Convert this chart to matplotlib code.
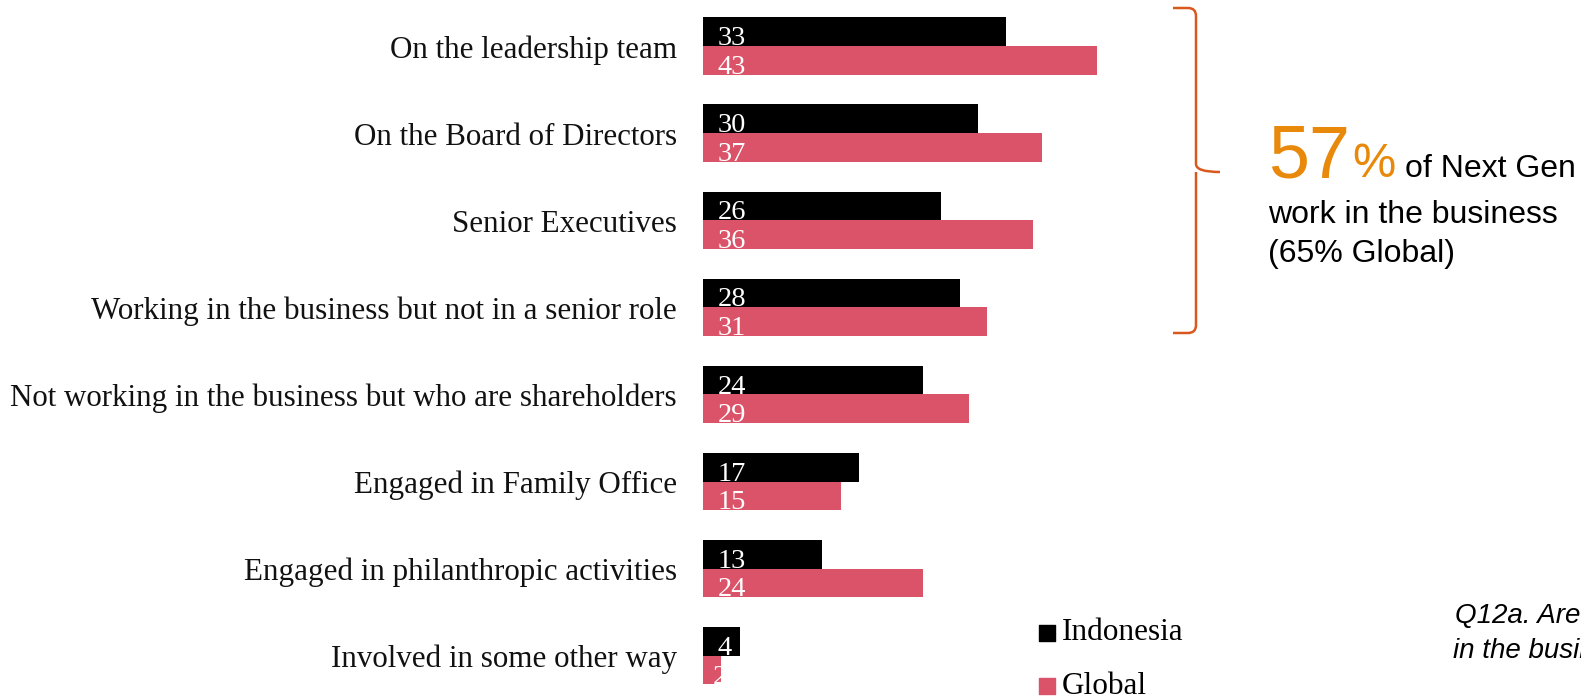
import matplotlib.pyplot as plt
from matplotlib.path import Path
from matplotlib.patches import PathPatch

categories = [
    "On the leadership team",
    "On the Board of Directors",
    "Senior Executives",
    "Working in the business but not in a senior role",
    "Not working in the business but who are shareholders",
    "Engaged in Family Office",
    "Engaged in philanthropic activities",
    "Involved in some other way",
]
indonesia = [33, 30, 26, 28, 24, 17, 13, 4]
global_vals = [43, 37, 36, 31, 29, 15, 24, 2]
series_names = ["Indonesia", "Global"]

BLACK = "#000000"
PINK = "#DB5369"
ORANGE = "#E8890C"
BRACKET = "#D9581E"
SERIF = "Liberation Serif"
SANS = "Liberation Sans"

W, H = 1581, 697
fig = plt.figure(figsize=(W / 100, H / 100), dpi=100)

# bar axes: zero at x=703px, 9.17 px per unit; rows 87.1 px apart, first centre at 46 px
x0, ppu = 703, 9.17
xmax = 60
pitch, first = 87.1, 46
ax = fig.add_axes([x0 / W, 0, xmax * ppu / W, 1])
ax.set_xlim(0, xmax)
ax.set_ylim((H - first) / pitch, -first / pitch)
ax.axis("off")

bh = 28.7 / pitch
for i, (a, b) in enumerate(zip(indonesia, global_vals)):
    r1 = ax.barh(i - bh / 2, a, height=bh, color=BLACK)[0]
    r2 = ax.barh(i + bh / 2, b, height=bh, color=PINK)[0]
    for val, rect, yb in ((a, r1, i), (b, r2, i + bh)):
        t = ax.text(min(1.6, val * 0.55), yb - 0.01, str(val), color="white",
                    fontsize=20.5, family=SERIF, ha="left", va="baseline")
        t.set_clip_path(rect)
    ax.text(-26 / ppu, i + 4 / pitch, categories[i], ha="right", va="center",
            fontsize=22.3, family=SERIF, color="#111111")

# overlay in pixel coordinates for annotations
ov = fig.add_axes([0, 0, 1, 1])
ov.set_xlim(0, W)
ov.set_ylim(H, 0)
ov.axis("off")

# curly bracket
xv, xl, xt = 1196, 1173, 1220
yt, ym, yb = 8, 172, 333
r = 8
verts = [
    (xl, yt), (xv - r, yt), (xv, yt), (xv, yt + r),
    (xv, ym - r), (xv, ym), (xt, ym),
    (xv, ym), (xv, ym + r),
    (xv, yb - r), (xv, yb), (xv - r, yb), (xl, yb),
]
codes = [Path.MOVETO, Path.LINETO, Path.CURVE3, Path.CURVE3,
         Path.LINETO, Path.CURVE3, Path.CURVE3,
         Path.MOVETO, Path.LINETO,
         Path.LINETO, Path.CURVE3, Path.CURVE3, Path.LINETO]
ov.add_patch(PathPatch(Path(verts, codes), fill=False, edgecolor=BRACKET, lw=1.8))

ov.text(1268, 177, "57", color=ORANGE, fontsize=53, family=SANS, va="baseline")
ov.text(1352, 177, "%", color=ORANGE, fontsize=35, family=SANS, va="baseline")
ov.text(1405, 177, "of Next Gen", color="black", fontsize=23, family=SANS, va="baseline")
ov.text(1268, 223, "work in the business", color="black", fontsize=23, family=SANS, va="baseline")
ov.text(1268, 262, "(65% Global)", color="black", fontsize=23, family=SANS, va="baseline")

# legend
for yy, name, col in ((633, series_names[0], BLACK), (686, series_names[1], PINK)):
    ov.scatter([1047], [yy], marker="s", s=120, color=col)
    ov.text(1062, yy, name, fontsize=22.5, family=SERIF, va="center", ha="left")

# question note, running past the right edge
ov.text(1455, 623, "Q12a. Are", fontsize=20, family=SANS, style="italic", va="baseline")
ov.text(1453, 658, "in the business", fontsize=20, family=SANS, style="italic", va="baseline")

fig.savefig("out.png", dpi=100)
